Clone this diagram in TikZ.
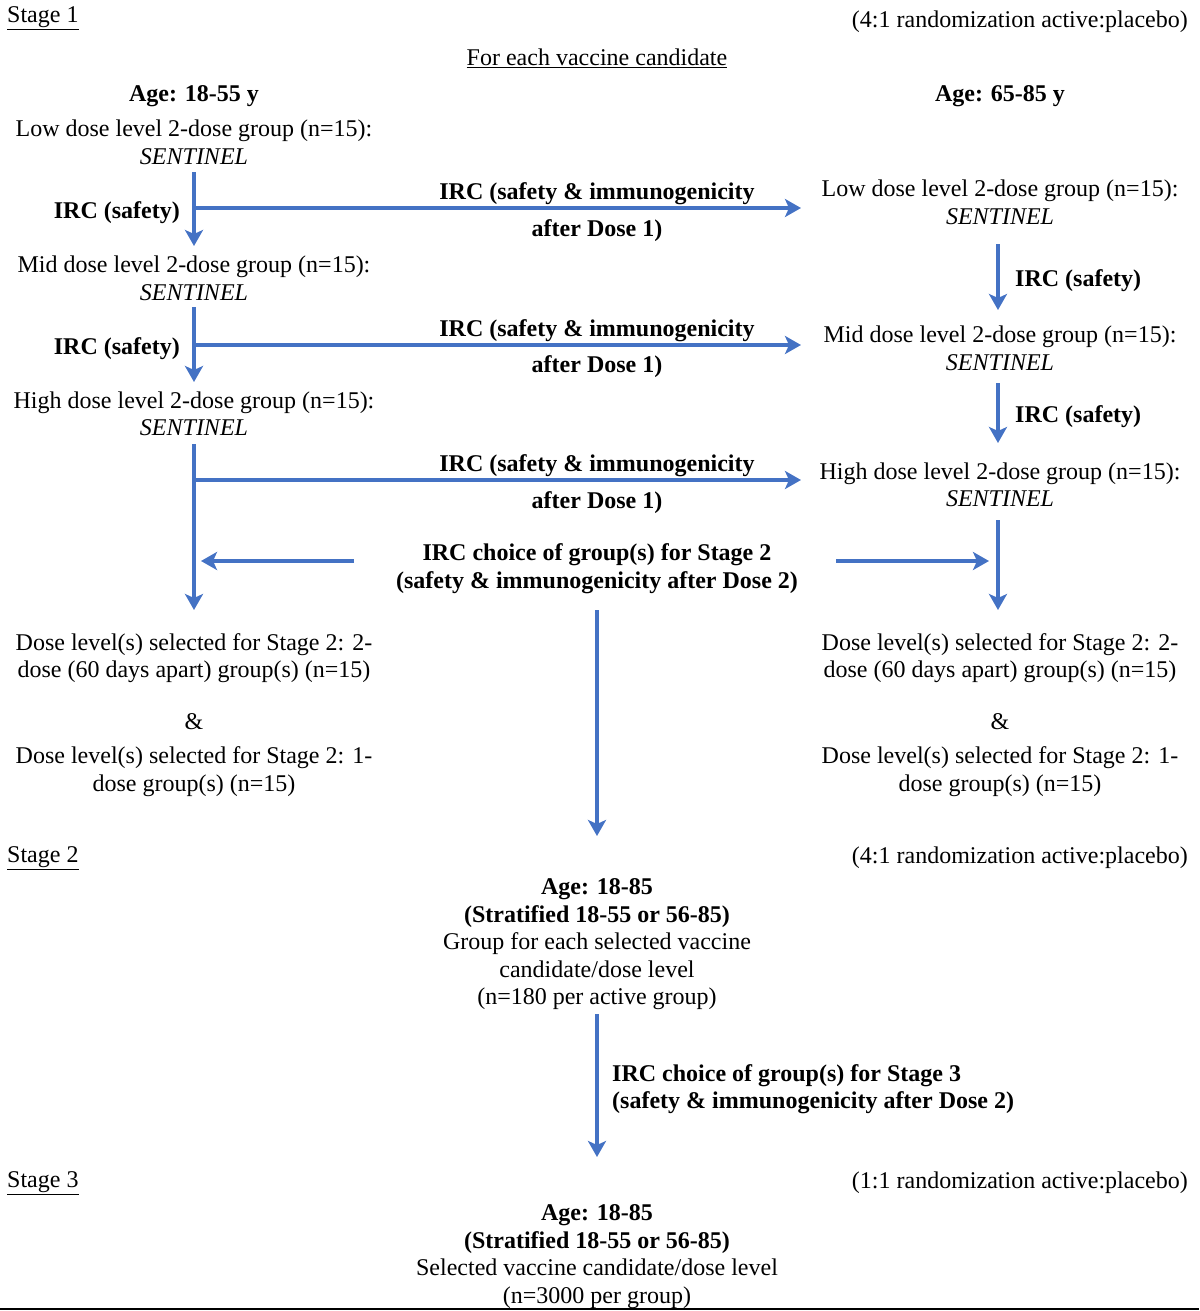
\documentclass[tikz,border=0pt]{standalone}
\usepackage{fontspec}
\setmainfont{Liberation Serif}
\usetikzlibrary{arrows.meta}
\definecolor{arrblue}{HTML}{4472C4}
\newcommand{\myul}[1]{\underline{#1}}
\begin{document}
\begin{tikzpicture}[x=1pt,y=-1pt,
  txt/.style={font=\fontsize{24}{27.5}\selectfont, inner sep=0pt, align=center},
  btxt/.style={txt, font=\fontsize{24}{27.5}\selectfont\bfseries},
  arr/.style={draw=arrblue, line width=4.5pt, -{Stealth[length=16pt,width=18pt,inset=4pt]}},
  ln/.style={draw=arrblue, line width=4.5pt}
]
\useasboundingbox (0,0) rectangle (1199,1311);

\begin{scope}[yshift=-3pt]
% Stage headers
\node[txt, anchor=west] (s1) at (7,15) {\myul{Stage 1}};
\node[txt, anchor=east] (r1) at (1188,19) {(4:1 randomization active:placebo)};
\node[txt] (each) at (597,55) {\myul{For each vaccine candidate}};

\node[btxt] (ageL) at (194,93) {Age: 18-55 y};
\node[btxt] (ageR) at (1000,93) {Age: 65-85 y};

% Left column groups
\node[txt] (Llow) at (194,139.5) {Low dose level 2-dose group (n=15):\\\textit{SENTINEL}};
\node[txt] (Lmid) at (194,275.5) {Mid dose level 2-dose group (n=15):\\\textit{SENTINEL}};
\node[txt] (Lhigh) at (194,411) {High dose level 2-dose group (n=15):\\\textit{SENTINEL}};

% Right column groups
\node[txt] (Rlow) at (1000,199.5) {Low dose level 2-dose group (n=15):\\\textit{SENTINEL}};
\node[txt] (Rmid) at (1000,345.5) {Mid dose level 2-dose group (n=15):\\\textit{SENTINEL}};
\node[txt] (Rhigh) at (1000,482) {High dose level 2-dose group (n=15):\\\textit{SENTINEL}};

% IRC safety labels
\node[btxt, anchor=east] (ircL1) at (180,210) {IRC (safety)};
\node[btxt, anchor=east] (ircL2) at (180,346) {IRC (safety)};
\node[btxt, anchor=west] (ircR1) at (1015,278) {IRC (safety)};
\node[btxt, anchor=west] (ircR2) at (1015,414) {IRC (safety)};

% horizontal arrow labels
\node[btxt] (h1a) at (597,191) {IRC (safety \& immunogenicity};
\node[btxt] (h1b) at (597,228) {after Dose 1)};
\node[btxt] (h2a) at (597,328) {IRC (safety \& immunogenicity};
\node[btxt] (h2b) at (597,364) {after Dose 1)};
\node[btxt] (h3a) at (597,463) {IRC (safety \& immunogenicity};
\node[btxt] (h3b) at (597,500) {after Dose 1)};

% Stage 2 choice
\node[btxt] (choice2) at (597,565.5) {IRC choice of group(s) for Stage 2\\(safety \& immunogenicity after Dose 2)};

% Selected groups
\node[txt] (Lsel2) at (194,655) {Dose level(s) selected for Stage 2: 2-\\dose (60 days apart) group(s) (n=15)};
\node[txt] (Land) at (194,719) {\&};
\node[txt] (Lsel1) at (194,768.5) {Dose level(s) selected for Stage 2: 1-\\dose group(s) (n=15)};
\node[txt] (Rsel2) at (1000,655) {Dose level(s) selected for Stage 2: 2-\\dose (60 days apart) group(s) (n=15)};
\node[txt] (Rand) at (1000,719) {\&};
\node[txt] (Rsel1) at (1000,768.5) {Dose level(s) selected for Stage 2: 1-\\dose group(s) (n=15)};

% Stage 2
\node[txt, anchor=west] (s2) at (7,855) {\myul{Stage 2}};
\node[txt, anchor=east] (r2) at (1188,855) {(4:1 randomization active:placebo)};
\node[txt] (st2) at (597,941.5) {\textbf{Age: 18-85}\\\textbf{(Stratified 18-55 or 56-85)}\\Group for each selected vaccine\\candidate/dose level\\(n=180 per active group)};

\node[btxt, anchor=west, align=left] (choice3) at (612,1086) {IRC choice of group(s) for Stage 3\\(safety \& immunogenicity after Dose 2)};

% Stage 3
\node[txt, anchor=west] (s3) at (7,1180) {\myul{Stage 3}};
\node[txt, anchor=east] (r3) at (1188,1180) {(1:1 randomization active:placebo)};
\node[txt] (st3) at (597,1253.5) {\textbf{Age: 18-85}\\\textbf{(Stratified 18-55 or 56-85)}\\Selected vaccine candidate/dose level\\(n=3000 per group)};
\end{scope}

% coordinates for connectors
\coordinate (a1s) at (194,172); \coordinate (a1e) at (194,246);
\coordinate (b1s) at (194,208); \coordinate (b1e) at (801,208);
\coordinate (a2s) at (194,307); \coordinate (a2e) at (194,382);
\coordinate (b2s) at (194,345); \coordinate (b2e) at (801,345);
\coordinate (a3s) at (194,444); \coordinate (a3e) at (194,610);
\coordinate (b3s) at (194,480); \coordinate (b3e) at (801,480);
\coordinate (c1s) at (998,244); \coordinate (c1e) at (998,310);
\coordinate (c2s) at (998,383); \coordinate (c2e) at (998,443);
\coordinate (c3s) at (998,520); \coordinate (c3e) at (998,610);
\coordinate (lls) at (354,561); \coordinate (lle) at (201,561);
\coordinate (rrs) at (836,561); \coordinate (rre) at (989,561);
\coordinate (m1s) at (597,610); \coordinate (m1e) at (597,836);
\coordinate (m2s) at (597,1014); \coordinate (m2e) at (597,1157);

\draw[arr] (a1s) -- (a1e);
\draw[arr] (b1s) -- (b1e);
\draw[arr] (a2s) -- (a2e);
\draw[arr] (b2s) -- (b2e);
\draw[arr] (a3s) -- (a3e);
\draw[arr] (b3s) -- (b3e);
\draw[arr] (c1s) -- (c1e);
\draw[arr] (c2s) -- (c2e);
\draw[arr] (c3s) -- (c3e);
\draw[arr] (lls) -- (lle);
\draw[arr] (rrs) -- (rre);
\draw[arr] (m1s) -- (m1e);
\draw[arr] (m2s) -- (m2e);

% bottom rule
\coordinate (bl) at (0,1309); \coordinate (br) at (1199,1309);
\draw[line width=2pt] (bl) -- (br);
\end{tikzpicture}
\end{document}
